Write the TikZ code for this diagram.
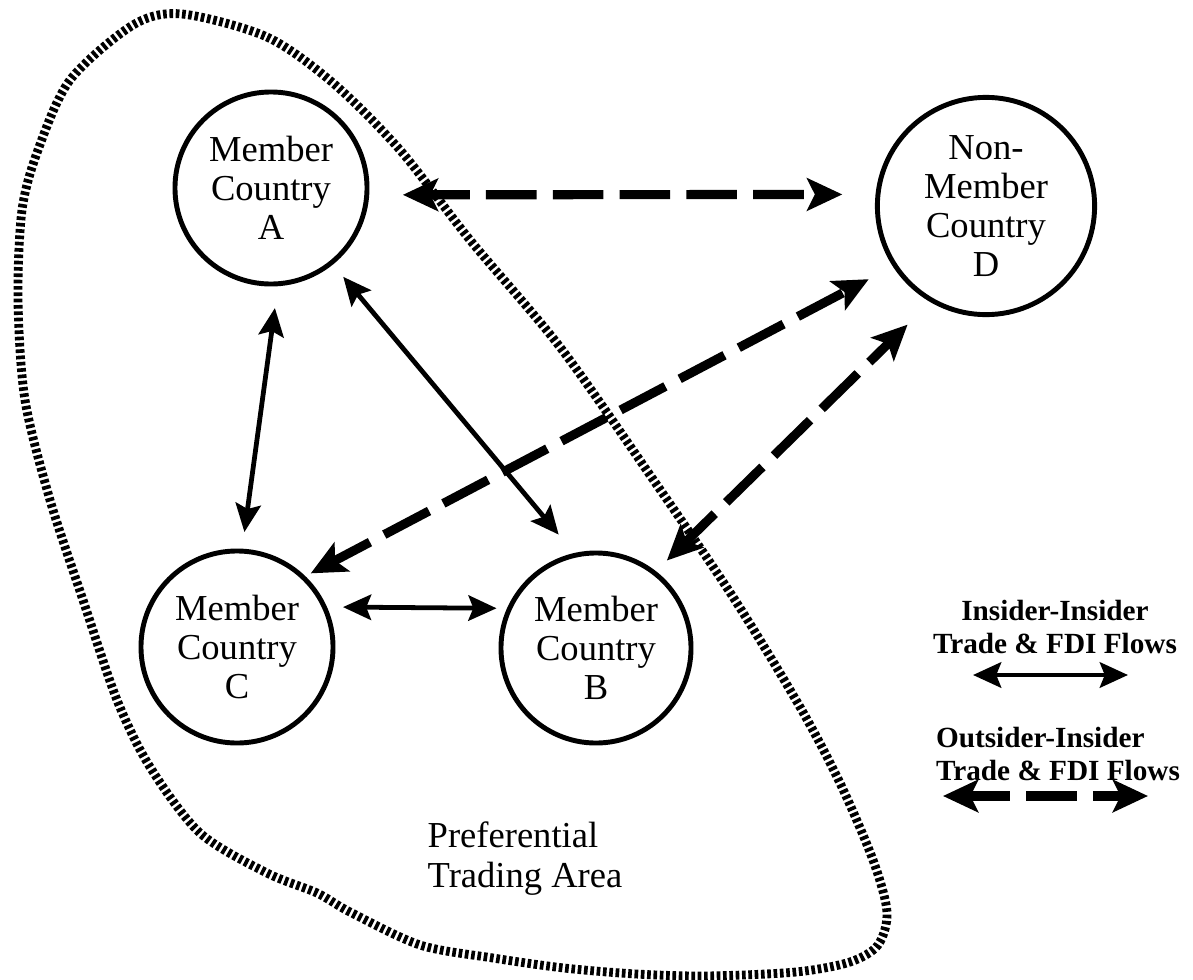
\documentclass[tikz,border=0pt]{standalone}
\usepackage{fontspec}
\setmainfont{Liberation Serif}
\usetikzlibrary{arrows.meta,calc}

\begin{document}
\begin{tikzpicture}[x=0.025cm,y=-0.025cm,
  intip/.tip={Stealth[length=20pt,width=18pt,inset=3.5pt]},
  outtip/.tip={Stealth[length=25pt,width=23pt,inset=5.5pt]},
  country/.style={draw,circle,line width=3.5pt,inner sep=0pt,align=center,
    font=\fontsize{26pt}{27.7pt}\selectfont},
  inflow/.style={line width=3.4pt,intip-intip},
  outflow/.style={line width=6.5pt,dash pattern=on 36pt off 11.5pt,dash phase=6.4pt,outtip-outtip},
  area/.style={line width=6.3pt,dash pattern=on 2.6pt off 1.9pt},
  caption/.style={font=\fontsize{26pt}{28.5pt}\selectfont,align=left,inner sep=0pt},
  legend/.style={font=\bfseries\fontsize{20.8pt}{22.8pt}\selectfont,inner sep=0pt}
]
\useasboundingbox (0,0) rectangle (1193,980);

% boundary of the preferential trading area
\draw[area] plot[smooth cycle] coordinates {
  (182,14) (267,37) (333,83) (400,150) (470,240) (560,347) (650,475)
  (733,597) (800,707) (840,783) (873,860) (887,912) (878,945) (850,962)
  (796,972) (707,976) (636,974) (564,968) (493,958) (420,945) (350,912)
  (317,893) (267,873) (200,833) (150,767) (117,700) (83,600) (50,500)
  (25,400) (18,300) (22,210) (38,150) (70,80) (133,25)};

% countries
\node[country,minimum size=4.8cm]  (A) at (271,188) {Member\\Country\\A};
\node[country,minimum size=4.8cm]  (C) at (237,647) {Member\\Country\\C};
\node[country,minimum size=4.75cm] (B) at (596,648) {Member\\Country\\B};
\node[country,minimum size=5.43cm] (D) at (986,206) {Non-\\Member\\Country\\D};

\node[caption] (P) at (525,859) {Preferential\\Trading Area};

% insider-insider flows
\draw[inflow,shorten <=0.55cm,shorten >=0.42cm] (A.274) -- (C.87);
\draw[inflow,shorten <=0.4cm,shorten >=0.6cm]   (A.309) -- (B.103);
\draw[inflow,shorten <=0.4cm,shorten >=0.26cm]  (C.24) -- (B.156);

% outsider-insider flows
\draw[outflow,shorten <=0.84cm,shorten >=0.83cm] (A.356) -- (D.174.5);
\draw[outflow,shorten <=0.15cm,shorten >=0.68cm] (C.46) -- (D.213);
\draw[outflow,shorten <=0.38cm,shorten >=0.8cm]  (B.52) -- (D.240);

% legend
\node[legend,align=center] (L1) at (1055,627) {Insider-Insider\\Trade \& FDI Flows};
\coordinate (L1a) at (973,675);
\coordinate (L1b) at (1128,675);
\draw[inflow] (L1a) -- (L1b);

\node[legend,align=left] (L2) at (1058,754) {Outsider-Insider\\Trade \& FDI Flows};
\coordinate (L2a) at (943,796);
\coordinate (L2b) at (1148,796);
\draw[outflow] (L2a) -- (L2b);
\end{tikzpicture}
\end{document}
